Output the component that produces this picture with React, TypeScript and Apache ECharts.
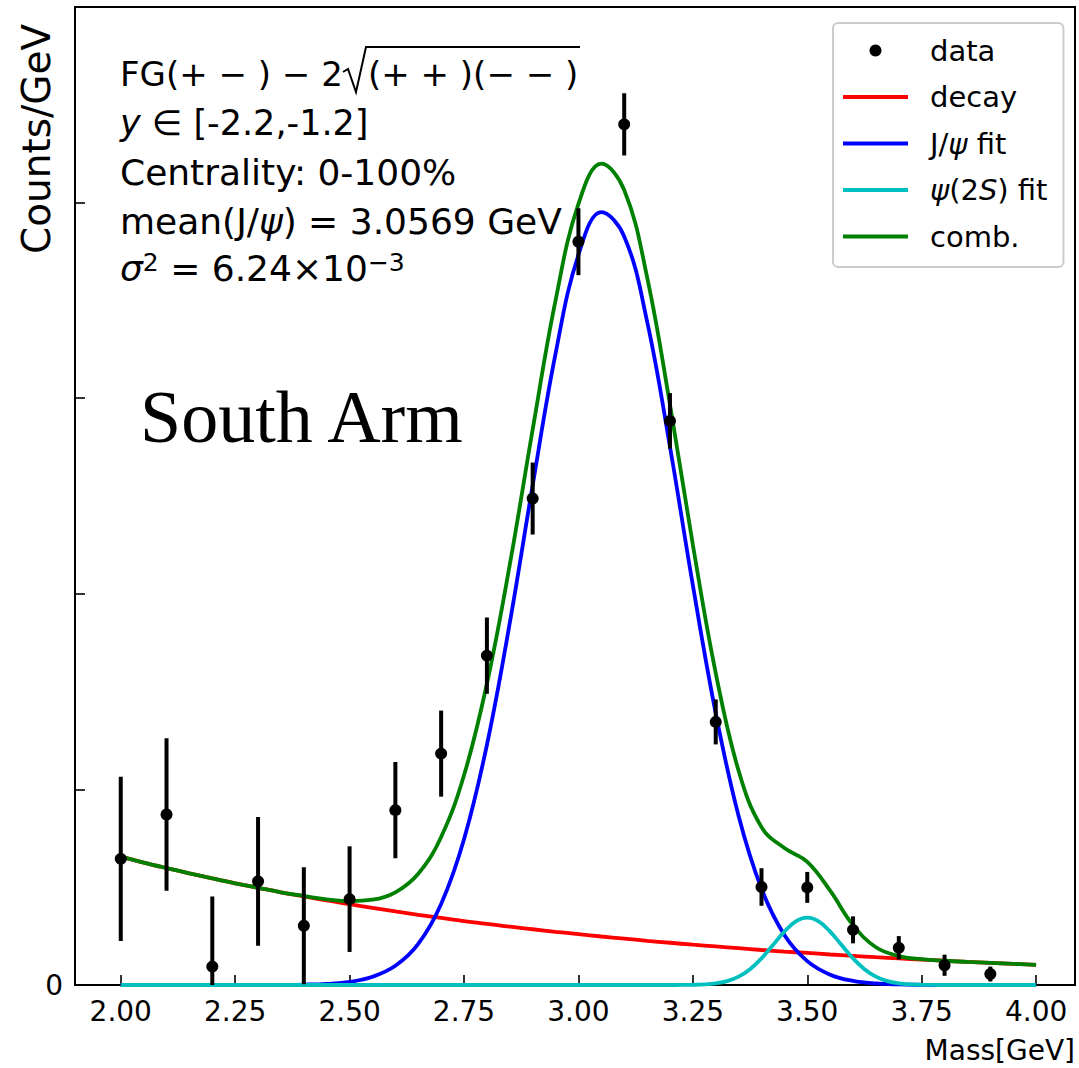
import React, { useEffect, useRef } from "react";
import * as echarts from "echarts";

const FONT = "DejaVu Sans";

// measured data points (bin centres, GeV) and their values / errors (arbitrary units, one y-tick = 1)
const massPoints = [2.0, 2.1, 2.2, 2.3, 2.4, 2.5, 2.6, 2.7, 2.8, 2.9, 3.0, 3.1, 3.2, 3.3, 3.4, 3.5, 3.6, 3.7, 3.8, 3.9];
const counts = [0.645, 0.872, 0.094, 0.53, 0.303, 0.439, 0.894, 1.183, 1.684, 2.487, 3.8, 4.4, 2.884, 1.345, 0.501, 0.499, 0.282, 0.19, 0.101, 0.056];
const countErrors = [0.42, 0.39, 0.359, 0.329, 0.299, 0.27, 0.246, 0.22, 0.195, 0.184, 0.171, 0.159, 0.142, 0.115, 0.096, 0.079, 0.069, 0.06, 0.054, 0.038];

// fit curves
const massGrid = [
  2.0, 2.05, 2.1, 2.15, 2.2, 2.25, 2.3, 2.35, 2.4, 2.45, 2.5, 2.55, 2.6, 2.65, 2.7, 2.75, 2.8, 2.85, 2.9, 2.95,
  3.0, 3.05, 3.1, 3.15, 3.2, 3.25, 3.3, 3.35, 3.4, 3.45, 3.5, 3.55, 3.6, 3.65, 3.7, 3.75, 3.8, 3.85, 3.9, 3.95, 4.0,
];
const decayCurve = [
  0.656, 0.626, 0.598, 0.571, 0.545, 0.52, 0.497, 0.474, 0.453, 0.432, 0.413, 0.394, 0.376, 0.359, 0.343, 0.327,
  0.313, 0.298, 0.285, 0.272, 0.26, 0.248, 0.237, 0.226, 0.216, 0.206, 0.197, 0.188, 0.179, 0.171, 0.164, 0.156,
  0.149, 0.142, 0.136, 0.13, 0.124, 0.118, 0.113, 0.108, 0.103,
];
const jpsiCurve = [
  0, 0, 0, 0, 0, 0, 0, 0.0005, 0.002, 0.006, 0.016, 0.042, 0.098, 0.21, 0.414, 0.745, 1.227, 1.851, 2.555, 3.228,
  3.733, 3.951, 3.827, 3.393, 2.752, 2.044, 1.389, 0.864, 0.492, 0.256, 0.122, 0.053, 0.021, 0.008, 0.003, 0.001,
  0, 0, 0, 0, 0,
];
const combCurve = [
  0.656, 0.626, 0.598, 0.571, 0.545, 0.52, 0.497, 0.474, 0.455, 0.438, 0.429, 0.436, 0.474, 0.569, 0.757, 1.072,
  1.54, 2.149, 2.84, 3.5, 3.993, 4.199, 4.064, 3.619, 2.968, 2.251, 1.595, 1.095, 0.807, 0.7, 0.63, 0.482, 0.306,
  0.193, 0.148, 0.132, 0.124, 0.118, 0.113, 0.108, 0.103,
];
const psi2sGrid = [
  2.0, 3.2, 3.225, 3.25, 3.275, 3.3, 3.325, 3.35, 3.375, 3.4, 3.425, 3.45, 3.475, 3.5, 3.525, 3.55, 3.575, 3.6,
  3.625, 3.65, 3.675, 3.7, 3.725, 3.75, 3.775, 3.8, 4.0,
];
const psi2sCurve = [
  0, 0, 0.0003, 0.0011, 0.0032, 0.0085, 0.02, 0.043, 0.081, 0.136, 0.204, 0.273, 0.325, 0.344, 0.325, 0.273, 0.204,
  0.136, 0.081, 0.043, 0.02, 0.0085, 0.0032, 0.0011, 0.0003, 0, 0,
];

const xTickValues = [2.0, 2.25, 2.5, 2.75, 3.0, 3.25, 3.5, 3.75, 4.0];
const yLabelValues = [0];
const legendNames = ["data", "decay", "J/ψ fit", "ψ(2S) fit", "comb."];

const pairs = (xs: number[], ys: number[]) => xs.map((x, i) => [x, ys[i]]);

const LINE_ICON = "path://M0,0 L65,0 L65,4 L0,4 Z";

export default function App() {
  const ref = useRef<HTMLDivElement>(null);

  useEffect(() => {
    if (!ref.current) return;
    const chart = echarts.init(ref.current, null, { renderer: "svg" });

    const errData = massPoints.map((m, i) => [m, counts[i] - countErrors[i], counts[i] + countErrors[i]]);

    const lineSeries = (name: string, xs: number[], ys: number[], color: string) => ({
      name,
      type: "line",
      data: pairs(xs, ys),
      symbol: "none",
      showSymbol: false,
      smooth: 0.4,
      lineStyle: { color, width: 3.8 },
      itemStyle: { color },
      z: 3,
    });

    const option: any = {
      animation: false,
      backgroundColor: "#ffffff",
      textStyle: { fontFamily: FONT },
      grid: {
        left: 75,
        top: 7,
        width: 1000,
        height: 978,
        show: true,
        borderColor: "#000",
        borderWidth: 2,
        backgroundColor: "transparent",
        containLabel: false,
      },
      xAxis: {
        type: "value",
        min: 1.9,
        max: 4.085,
        axisLine: { show: true, onZero: false, lineStyle: { color: "#000", width: 2 } },
        axisTick: {
          show: true,
          inside: true,
          length: 10,
          customValues: xTickValues,
          lineStyle: { color: "#000", width: 1.6 },
        },
        axisLabel: {
          customValues: xTickValues,
          formatter: (v: number) => v.toFixed(2),
          fontSize: 28,
          color: "#000",
          margin: 12,
          fontFamily: FONT,
        },
        splitLine: { show: false },
      },
      yAxis: {
        type: "value",
        min: 0,
        max: 5,
        interval: 1,
        axisLine: { show: true, onZero: false, lineStyle: { color: "#000", width: 2 } },
        axisTick: { show: true, inside: true, length: 10, lineStyle: { color: "#000", width: 1.6 } },
        axisLabel: {
          customValues: yLabelValues,
          formatter: (v: number) => String(v),
          fontSize: 28,
          color: "#000",
          margin: 12,
          fontFamily: FONT,
        },
        splitLine: { show: false },
      },
      legend: {
        left: 833,
        top: 23,
        orient: "vertical",
        itemWidth: 65,
        itemHeight: 12,
        itemGap: 17.5,
        padding: [13, 16, 16, 10],
        backgroundColor: "rgba(255,255,255,0.8)",
        borderColor: "#cccccc",
        borderWidth: 2,
        borderRadius: 5,
        selectedMode: false,
        symbolKeepAspect: true,
        data: [
          { name: legendNames[0], icon: "circle", itemStyle: { color: "#000", opacity: 1 } },
          { name: legendNames[1], icon: LINE_ICON },
          { name: legendNames[2], icon: LINE_ICON },
          { name: legendNames[3], icon: LINE_ICON },
          { name: legendNames[4], icon: LINE_ICON },
        ],
        formatter: (name: string) => {
          if (name === "J/ψ fit") return "J/{i|ψ} fit";
          if (name === "ψ(2S) fit") return "{i|ψ}(2{i|S}) fit";
          return name;
        },
        textStyle: {
          fontSize: 29,
          lineHeight: 29,
          color: "#000",
          fontFamily: FONT,
          padding: [0, 0, 0, 17],
          rich: { i: { fontStyle: "italic", fontSize: 29, fontFamily: FONT, color: "#000" } },
        },
      },
      graphic: [
        {
          type: "text",
          x: 120,
          y: 74,
          style: { text: "FG(+ − ) − 2", fontSize: 34, fontFamily: FONT, fill: "#000", align: "left", verticalAlign: "middle" },
        },
        {
          type: "polyline",
          shape: { points: [[343, 72], [348, 69], [356, 92], [366, 47], [580, 47]] },
          style: { stroke: "#000", lineWidth: 2, fill: null },
        },
        {
          type: "text",
          x: 368,
          y: 74,
          style: { text: "(+ + )(− − )", fontSize: 34, fontFamily: FONT, fill: "#000", align: "left", verticalAlign: "middle" },
        },
        {
          type: "text",
          x: 120,
          y: 123,
          style: {
            text: "{i|y} ∈ [-2.2,-1.2]",
            fontSize: 35,
            fontFamily: FONT,
            fill: "#000",
            align: "left",
            verticalAlign: "middle",
            rich: { i: { fontStyle: "italic", fontSize: 35, fontFamily: FONT, fill: "#000" } },
          },
        },
        {
          type: "text",
          x: 120,
          y: 172,
          style: { text: "Centrality: 0-100%", fontSize: 36, fontFamily: FONT, fill: "#000", align: "left", verticalAlign: "middle" },
        },
        {
          type: "text",
          x: 120,
          y: 221,
          style: {
            text: "mean(J/{i|ψ}) = 3.0569 GeV",
            fontSize: 36,
            fontFamily: FONT,
            fill: "#000",
            align: "left",
            verticalAlign: "middle",
            rich: { i: { fontStyle: "italic", fontSize: 36, fontFamily: FONT, fill: "#000" } },
          },
        },
        {
          type: "text",
          x: 120,
          y: 268,
          style: {
            text: "{i|σ}{sup|2} = 6.24×10{sup|−3}",
            fontSize: 36,
            fontFamily: FONT,
            fill: "#000",
            align: "left",
            verticalAlign: "middle",
            rich: {
              i: { fontStyle: "italic", fontSize: 36, fontFamily: FONT, fill: "#000" },
              sup: { fontSize: 25, fontFamily: FONT, fill: "#000", verticalAlign: "top" },
            },
          },
        },
        {
          type: "text",
          x: 140,
          y: 417,
          style: { text: "South Arm", fontSize: 74, fontFamily: "Liberation Serif", fill: "#000", align: "left", verticalAlign: "middle" },
        },
        {
          type: "text",
          x: 36,
          y: 139,
          rotation: Math.PI / 2,
          style: { text: "Counts/GeV", fontSize: 39, fontFamily: FONT, fill: "#000", align: "center", verticalAlign: "middle" },
        },
        {
          type: "text",
          x: 1075,
          y: 1050,
          style: { text: "Mass[GeV]", fontSize: 28, fontFamily: FONT, fill: "#000", align: "right", verticalAlign: "middle" },
        },
      ],
      series: [
        {
          name: "data-errors",
          type: "custom",
          clip: true,
          data: errData,
          encode: { x: 0, y: [1, 2] },
          renderItem: (params: any, api: any) => {
            const x = api.value(0);
            const p1 = api.coord([x, api.value(1)]);
            const p2 = api.coord([x, api.value(2)]);
            return {
              type: "line",
              shape: { x1: p1[0], y1: p1[1], x2: p2[0], y2: p2[1] },
              style: { stroke: "#000", lineWidth: 4 },
            };
          },
          z: 4,
        },
        {
          name: "data",
          type: "scatter",
          data: pairs(massPoints, counts),
          symbol: "circle",
          symbolSize: 12,
          itemStyle: { color: "#000", opacity: 1 },
          z: 5,
        },
        lineSeries("decay", massGrid, decayCurve, "#ff0000"),
        lineSeries("J/ψ fit", massGrid, jpsiCurve, "#0000ff"),
        lineSeries("ψ(2S) fit", psi2sGrid, psi2sCurve, "#00bfbf"),
        lineSeries("comb.", massGrid, combCurve, "#008000"),
      ],
    };

    chart.setOption(option);
    return () => chart.dispose();
  }, []);

  return (
    <div
      ref={ref}
      style={{ position: "absolute", left: 0, top: 0, width: 1079, height: 1068, background: "#fff" }}
    />
  );
}
